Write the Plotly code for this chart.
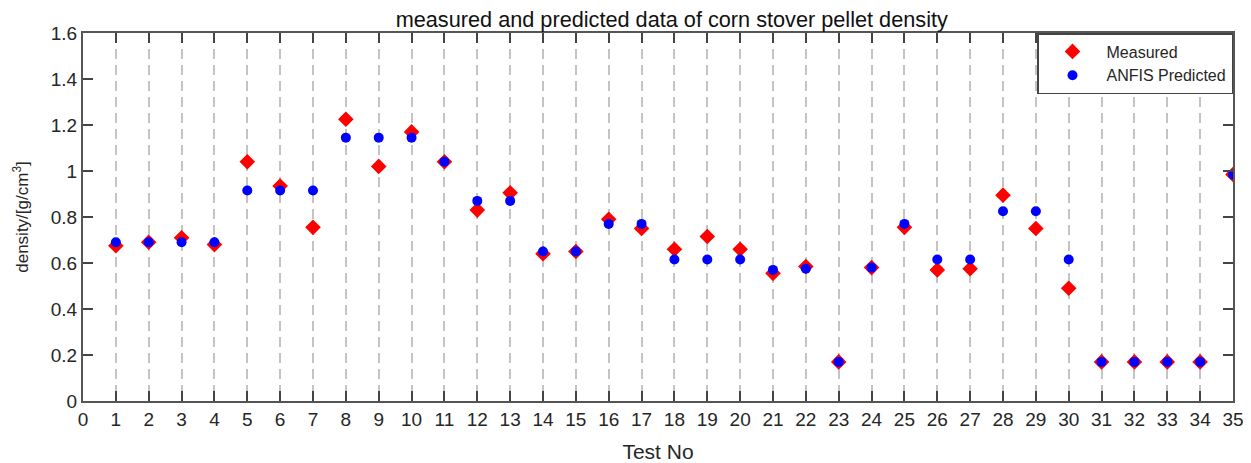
import plotly.graph_objects as go

test_no = list(range(1, 36))

measured = [0.675, 0.69, 0.71, 0.68, 1.04, 0.935, 0.755, 1.225, 1.02, 1.17,
            1.04, 0.83, 0.905, 0.64, 0.65, 0.79, 0.75, 0.66, 0.715, 0.66,
            0.555, 0.585, 0.17, 0.58, 0.755, 0.57, 0.575, 0.895, 0.75, 0.49,
            0.17, 0.17, 0.17, 0.17, 0.985]

predicted = [0.69, 0.69, 0.69, 0.69, 0.915, 0.915, 0.915, 1.145, 1.145, 1.145,
             1.04, 0.87, 0.87, 0.65, 0.65, 0.77, 0.77, 0.615, 0.615, 0.615,
             0.57, 0.575, 0.17, 0.58, 0.77, 0.615, 0.615, 0.825, 0.825, 0.615,
             0.17, 0.17, 0.17, 0.17, 0.985]

FAMILY = "Liberation Sans, Arial, sans-serif"
TXT = "#262626"
tick_font = dict(family=FAMILY, size=19, color=TXT)

fig = go.Figure()
fig.add_trace(go.Scatter(x=test_no, y=measured, mode="markers", name="Measured",
                         marker=dict(symbol="diamond", size=12, color="#ff0000")))
fig.add_trace(go.Scatter(x=test_no, y=predicted, mode="markers", name="ANFIS Predicted",
                         marker=dict(symbol="circle", size=10, color="#0000ff")))

axis_common = dict(showline=True, linecolor="#555555", linewidth=2, mirror="ticks",
                   ticks="inside", ticklen=10, tickcolor="#444444", tickwidth=1.5,
                   zeroline=False, tickfont=tick_font, automargin=False)

fig.update_xaxes(range=[0, 35], dtick=1, tick0=0, showgrid=True, gridcolor="#c4c4c4",
                 griddash="10px,6px", gridwidth=1.5,
                 title=dict(text="Test No", font=dict(family=FAMILY, size=21, color=TXT),
                            standoff=16), **axis_common)
fig.update_yaxes(range=[0, 1.6], dtick=0.2, tick0=0, showgrid=False,
                 title=dict(text="density/[g/cm<sup>3</sup>]",
                            font=dict(family=FAMILY, size=17, color=TXT), standoff=18),
                 **axis_common)

# page body has an 8px margin, so the figure is sized to fill the rest of the window
fig.update_layout(
    width=1243, height=455,
    margin=dict(l=75, r=18, t=25, b=62, autoexpand=False),
    paper_bgcolor="white", plot_bgcolor="white",
    title=dict(text="measured and predicted data of corn stover pellet density",
               x=0.534, xanchor="center", y=0.976, yanchor="middle",
               font=dict(family=FAMILY, size=21.7, color="#111111")),
    legend=dict(x=1, y=1, xanchor="right", yanchor="top", bgcolor="white",
                bordercolor="#444444", borderwidth=1.5,
                font=dict(family=FAMILY, size=16, color=TXT),
                itemwidth=58, tracegroupgap=0),
    showlegend=True,
)

fig.write_html("out.html")
